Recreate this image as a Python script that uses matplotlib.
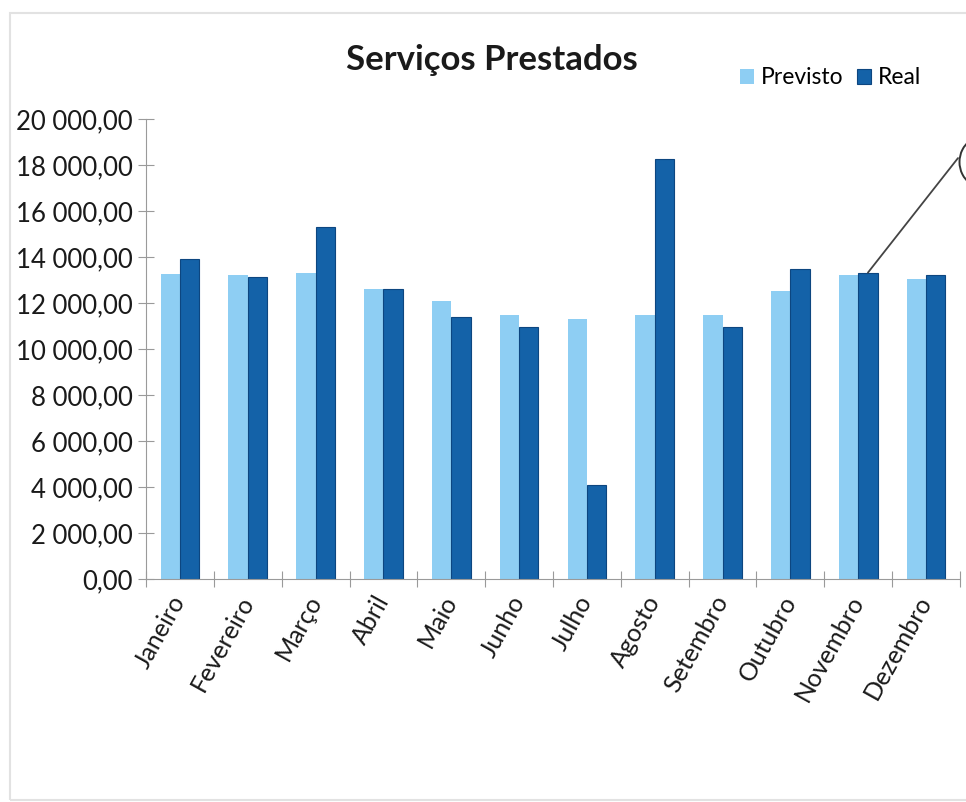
import matplotlib
matplotlib.use("Agg")
import matplotlib.pyplot as plt
import numpy as np
from matplotlib.patches import Rectangle, Arc

meses = ["Janeiro", "Fevereiro", "Março", "Abril", "Maio", "Junho",
         "Julho", "Agosto", "Setembro", "Outubro", "Novembro", "Dezembro"]
previsto = [13250, 13230, 13320, 12610, 12090, 11480,
            11300, 11480, 11480, 12510, 13220, 13040]
real = [13930, 13140, 15320, 12620, 11400, 10970,
        4090, 18270, 10970, 13480, 13320, 13220]
yticks = list(range(0, 20001, 2000))

plt.rcParams['font.family'] = ['Lato', 'DejaVu Sans']

def fmt(v):
    s = f"{v:,.2f}"
    return s.replace(",", " ").replace(".", ",")

fig = plt.figure(figsize=(9.66, 8.02), dpi=100)
ax = fig.add_axes([146/966, 1 - 579/802, (960 - 146)/966, (579 - 119)/802])

# moldura do gráfico
fig.patches.append(Rectangle((10/966, 2/802), 1.2, 787/802, transform=fig.transFigure,
                             fill=False, edgecolor="#e2e2e2", linewidth=1.5))

x = np.arange(len(meses))
w = 0.285
ax.bar(x - w/2, previsto, w, color="#8ecef3", label="Previsto")
ax.bar(x + w/2, real, w, color="#1462a8", edgecolor="#0d4680", linewidth=0.8, label="Real")

ax.set_xlim(-0.5, len(meses) - 0.5)
ax.set_ylim(0, 20000)
ax.set_yticks(yticks)
ax.set_yticklabels([fmt(v) for v in yticks], fontsize=18.5, color="#1a1a1a")
ax.set_xticks(np.arange(-0.5, len(meses)), labels=[])
ax.set_xticks(x, labels=meses, minor=True)
ax.tick_params(axis="x", which="major", direction="inout", length=11, color="#9a9a9a")
ax.tick_params(axis="x", which="minor", length=0, pad=13, labelsize=18, labelcolor="#1a1a1a")
ax.tick_params(axis="y", direction="inout", length=11, color="#9a9a9a", pad=4)
for lab in ax.get_xticklabels(minor=True):
    lab.set_rotation(61)
    lab.set_ha("right")
    lab.set_va("center")
    lab.set_rotation_mode("anchor")

for s in ["top", "right"]:
    ax.spines[s].set_visible(False)
for s in ["left", "bottom"]:
    ax.spines[s].set_color("#9a9a9a")

fig.text(492/966, 1 - 60/802, "Serviços Prestados", ha="center", va="center",
         fontsize=25, fontweight="bold", color="#1a1a1a")
fig.legend(loc="center right", bbox_to_anchor=(942/966, 1 - 78/802), ncol=2, frameon=False,
           fontsize=16.5, handlelength=0.6, handleheight=0.6, handletextpad=0.3,
           columnspacing=0.6)

# traço manuscrito a partir da barra de Novembro
ax.annotate("", xy=(10 + w/2, real[10]), xytext=(0.9975, 0.915), textcoords="axes fraction",
            arrowprops=dict(arrowstyle="-", color="#444444", lw=1.3,
                            connectionstyle="arc3,rad=0.0", shrinkA=0, shrinkB=0))
fig.patches.append(Arc((982/966, 1 - 162/802), 45/966, 50/802, theta1=115, theta2=245,
                       transform=fig.transFigure, color="#333333", lw=1.4))

fig.savefig("out.png", dpi=100)
